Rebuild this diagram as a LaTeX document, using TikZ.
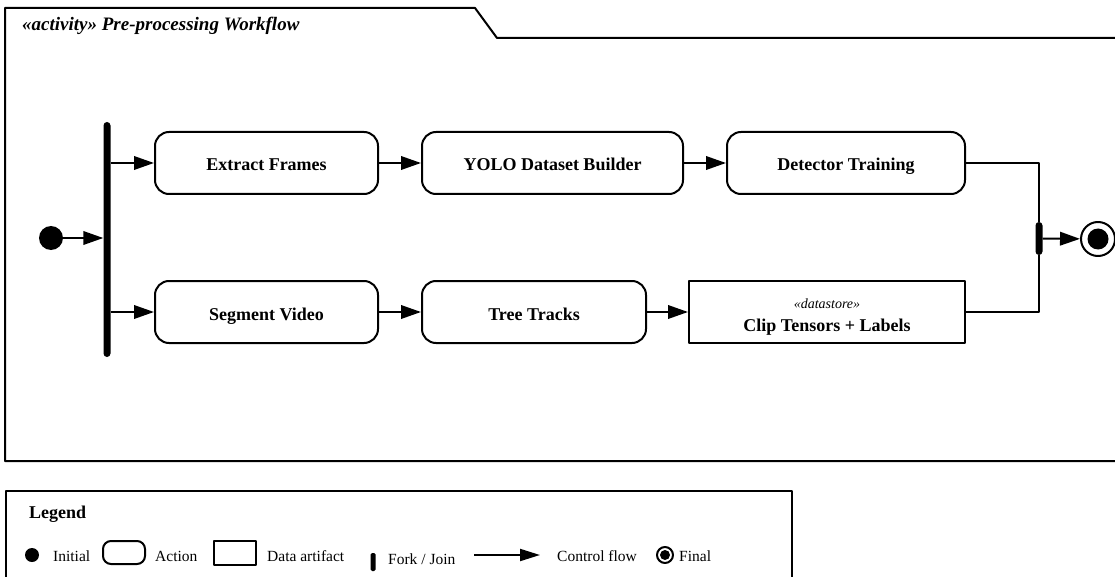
\documentclass[tikz,border=0pt]{standalone}
\usepackage{fontspec}
\setmainfont{Liberation Serif}
\usetikzlibrary{arrows.meta}
\begin{document}
\begin{tikzpicture}[x=1pt,y=-1pt,line join=round,
  ln/.style={line width=2pt},
  flow/.style={line width=2pt,-{Triangle[length=20pt,width=13.5pt]}},
  action/.style={draw,line width=2pt,rounded corners=14pt,font=\fontsize{18}{18}\selectfont\bfseries,
    text height=16pt,text depth=0pt,minimum height=62pt,inner sep=0pt},
  artifact/.style={draw,line width=2pt,minimum height=62pt,inner sep=0pt},
  barnode/.style={fill=black,rounded corners=3.5pt,minimum width=7pt,inner sep=0pt},
  initnode/.style={circle,fill=black,inner sep=0pt},
  finalnode/.style={circle,draw,line width=2pt,minimum size=34pt,inner sep=0pt,
    path picture={\fill[black] (path picture bounding box.center) circle (10.5pt);}},
  lgfinal/.style={circle,draw,line width=2pt,minimum size=16pt,inner sep=0pt,
    path picture={\fill[black] (path picture bounding box.center) circle (5pt);}},
  lgtext/.style={anchor=base west,inner sep=0pt,font=\fontsize{15.5}{15.5}\selectfont},
  boldtext/.style={inner sep=0pt,font=\fontsize{18}{18}\selectfont\bfseries}
]
\useasboundingbox (0,0) rectangle (1115,577);
\fill[white] (0,0) rectangle (1115,577);
\clip (0,0) rectangle (1115,577);

% activity frame
\draw[ln] (1125,461) -- (5,461) -- (5,8) -- (475,8) -- (497,38) -- (1125,38);
\node[anchor=base west,inner sep=0pt,font=\fontsize{19}{19}\selectfont\bfseries\itshape] (title) at (22,31) {«activity» Pre-processing Workflow};

% nodes
\node[initnode,minimum size=24pt] (init) at (51,238) {};
\node[barnode,minimum height=235pt] (fork) at (107,239.5) {};
\node[action,minimum width=223pt] (ef) at (266.5,163) {Extract Frames};
\node[action,minimum width=261pt] (yolo) at (552.5,163) {YOLO Dataset Builder};
\node[action,minimum width=238pt] (det) at (846,163) {Detector Training};
\node[action,minimum width=223pt] (seg) at (266.5,312) {Segment Video};
\node[action,minimum width=224pt] (tree) at (534,312) {Tree Tracks};
\node[artifact,minimum width=276pt] (clip) at (827,312) {};
\node[anchor=base,inner sep=0pt,font=\fontsize{14}{14}\selectfont\itshape] (clipst) at (827,308) {«datastore»};
\node[boldtext,anchor=base] (clipname) at (827,331) {Clip Tensors + Labels};
\node[barnode,minimum height=33pt] (join) at (1039,238.5) {};
\node[finalnode] (fin) at (1098,239) {};

% connectors
\draw[flow] (init) -- (init -| fork.west);
\draw[flow] (fork.east |- ef) -- (ef);
\draw[flow] (fork.east |- seg) -- (seg);
\draw[flow] (ef) -- (yolo);
\draw[flow] (yolo) -- (det);
\draw[flow] (seg) -- (tree);
\draw[flow] (tree) -- (clip);
\draw[ln] (det.east) -| (join.north);
\draw[ln] (clip.east) -| (join.south);
\draw[flow] (join) -- (fin);

% legend
\draw[ln] (6,590) -- (6,491) -- (792,491) -- (792,590);
\node[boldtext,anchor=base west] (lgtitle) at (29,518) {Legend};
\node[initnode,minimum size=14pt] (lginit) at (32,555) {};
\node[lgtext] (lginitt) at (53,561) {Initial};
\node[draw,line width=2pt,rounded corners=8pt,minimum width=42pt,minimum height=23pt,inner sep=0pt] (lgact) at (124,552.5) {};
\node[lgtext] (lgactt) at (155,561) {Action};
\node[draw,line width=2pt,minimum width=42pt,minimum height=24pt,inner sep=0pt] (lgart) at (235,553) {};
\node[lgtext] (lgartt) at (267,561) {Data artifact};
\node[barnode,minimum width=5pt,minimum height=18pt,rounded corners=1.5pt] (lgbar) at (373,562) {};
\node[lgtext] (lgbart) at (388,564) {Fork / Join};
\coordinate (lgfa) at (474,555);
\coordinate (lgfb) at (540,555);
\draw[line width=2pt,-{Triangle[length=20pt,width=12pt]}] (lgfa) -- (lgfb);
\node[lgtext] (lgflowt) at (557,561) {Control flow};
\node[lgfinal] (lgfin) at (665,555) {};
\node[lgtext] (lgfint) at (679,561) {Final};
\end{tikzpicture}
\end{document}
